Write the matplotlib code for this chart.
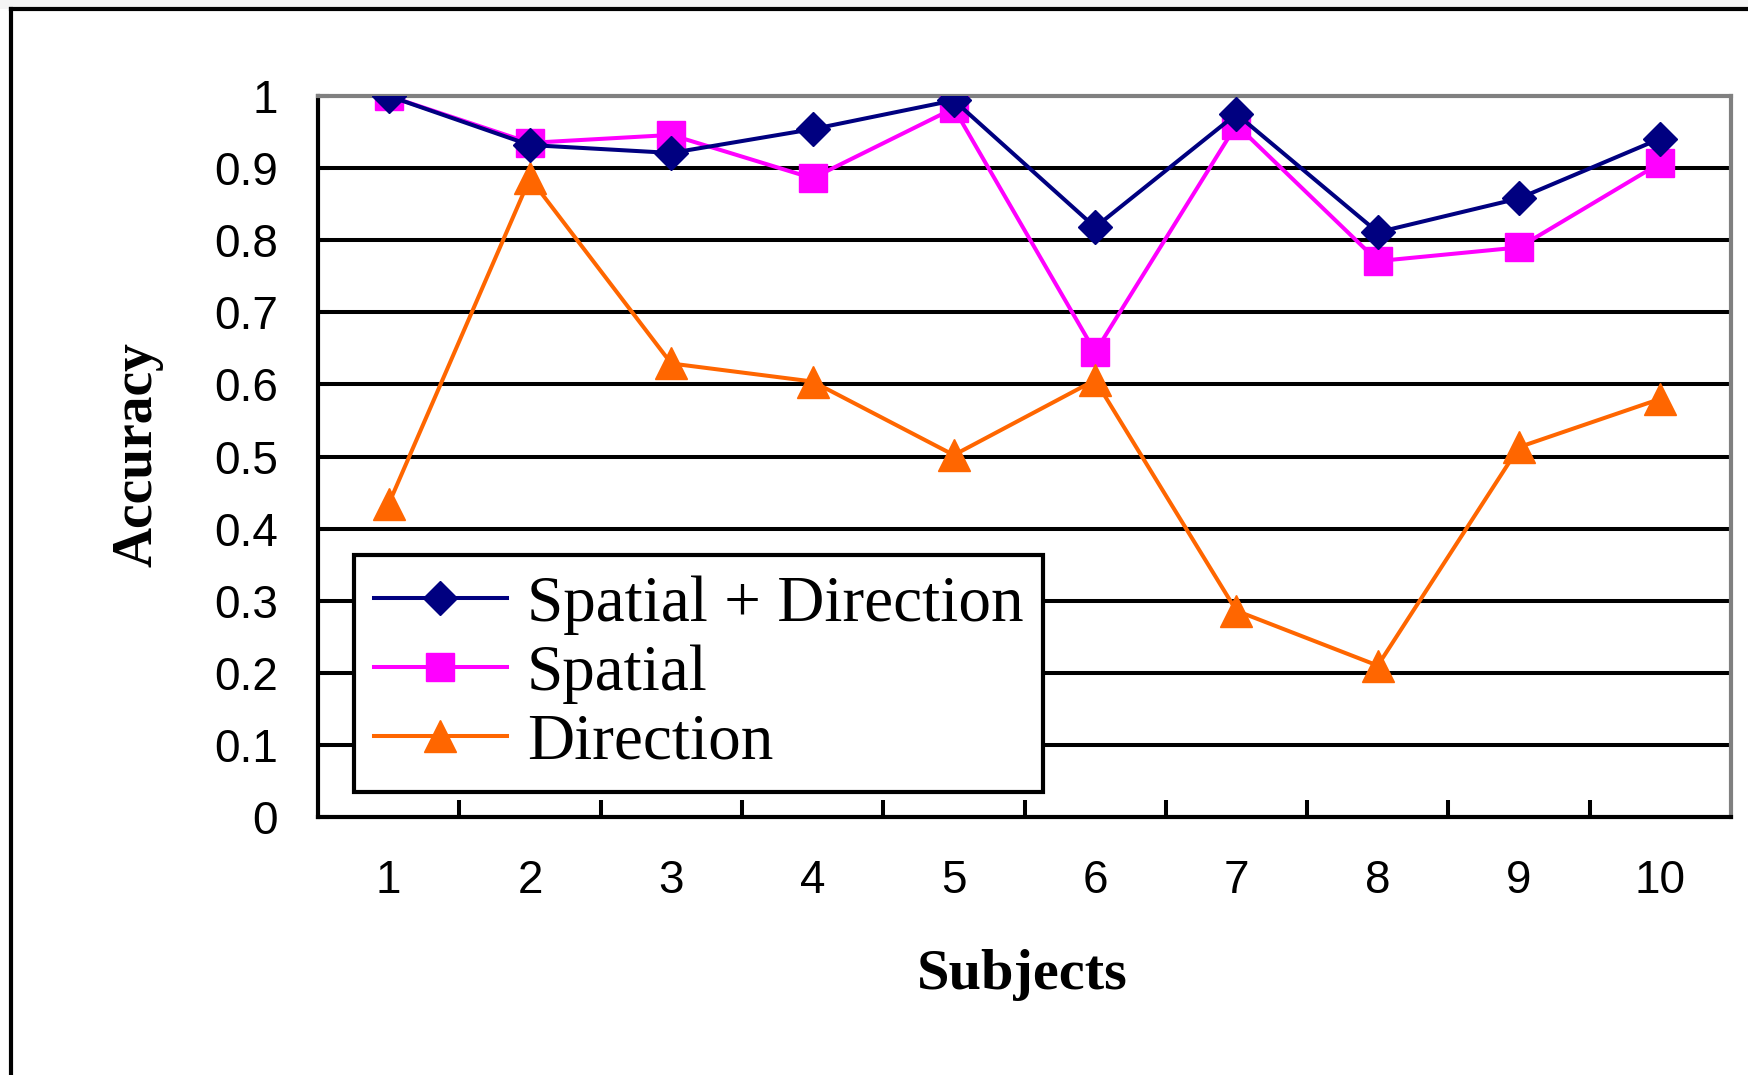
import matplotlib
matplotlib.use("Agg")
import matplotlib.pyplot as plt
from matplotlib.patches import Rectangle
from matplotlib.lines import Line2D
import numpy as np

subjects = ["1", "2", "3", "4", "5", "6", "7", "8", "9", "10"]
spatial_direction = [1.000, 0.932, 0.921, 0.954, 0.994, 0.818, 0.975, 0.811, 0.858, 0.941]
spatial = [1.000, 0.935, 0.946, 0.886, 0.983, 0.645, 0.960, 0.771, 0.790, 0.907]
direction = [0.434, 0.886, 0.629, 0.604, 0.502, 0.606, 0.286, 0.210, 0.513, 0.580]
y_ticks = [0, 0.1, 0.2, 0.3, 0.4, 0.5, 0.6, 0.7, 0.8, 0.9, 1]
y_tick_labels = ["0", "0.1", "0.2", "0.3", "0.4", "0.5", "0.6", "0.7", "0.8", "0.9", "1"]
series_names = ["Spatial + Direction", "Spatial", "Direction"]

tick_family = "Liberation Sans"
serif_family = "Liberation Serif"

W, H = 1748, 1075
fig = plt.figure(figsize=(W / 100, H / 100), dpi=100, facecolor="white")

# light strip above the outer frame and the frame itself
fig.patches.append(Rectangle((0, 1 - 9 / H), 1, 9 / H, transform=fig.transFigure,
                             facecolor="#f4f4f4", edgecolor="none", zorder=0))
fig.add_artist(Line2D([11 / W, 11 / W], [0, 1 - 9 / H], transform=fig.transFigure,
                      color="black", lw=3.0))
fig.add_artist(Line2D([11 / W, 1], [1 - 9 / H, 1 - 9 / H], transform=fig.transFigure,
                      color="black", lw=3.0))

ax = fig.add_axes([318 / W, 1 - 817 / H, (1731 - 318) / W, (817 - 96) / H])
x = np.arange(1, len(subjects) + 1)

ax.set_xlim(0.5, len(subjects) + 0.5)
ax.set_ylim(0, 1)

for yv in y_ticks[1:-1]:
    ax.axhline(yv, color="black", lw=2.9, zorder=1)

lw = 2.9
ax.plot(x, spatial_direction, color="#000080", lw=lw, marker="D", ms=17,
        markeredgecolor="#000080", label=series_names[0], zorder=4)
ax.plot(x, spatial, color="#FF00FF", lw=lw, marker="s", ms=20,
        markeredgecolor="#FF00FF", label=series_names[1], zorder=3)
ax.plot(x, direction, color="#FF6600", lw=lw, marker="^", ms=23,
        markeredgecolor="#FF6600", label=series_names[2], zorder=3)

for side in ["top", "right"]:
    ax.spines[side].set_color("#808080")
    ax.spines[side].set_linewidth(3)
for side in ["left", "bottom"]:
    ax.spines[side].set_color("black")
    ax.spines[side].set_linewidth(3)

ax.set_yticks(y_ticks)
ax.set_yticklabels(y_tick_labels, family=tick_family, fontsize=33)
ax.tick_params(axis="y", direction="in", length=8, width=2.9, pad=29)

ax.set_xticks(x)
ax.set_xticklabels(subjects, family=tick_family, fontsize=33)
ax.tick_params(axis="x", which="major", length=0, pad=30)
ax.set_xticks(np.arange(1.5, len(subjects), 1.0), minor=True)
ax.tick_params(axis="x", which="minor", direction="in", length=12, width=2.9)

leg = ax.legend(loc="lower left", bbox_to_anchor=(36 / 1413, 25 / 721), borderaxespad=0,
                prop={"family": serif_family, "size": 47}, frameon=True, fancybox=False,
                framealpha=1, handlelength=2.05, handletextpad=0.3, labelspacing=0.14,
                borderpad=0.3)
leg.get_frame().set_edgecolor("black")
leg.get_frame().set_linewidth(3)
leg.set_zorder(10)

fig.text(137 / W, 1 - 455 / H, "Accuracy", rotation=90, ha="center", va="center",
         family=serif_family, fontweight="bold", fontsize=40)
fig.text(1022 / W, 1 - 975 / H, "Subjects", ha="center", va="center",
         family=serif_family, fontweight="bold", fontsize=42)

fig.savefig("out.png", dpi=100, facecolor=fig.get_facecolor())
